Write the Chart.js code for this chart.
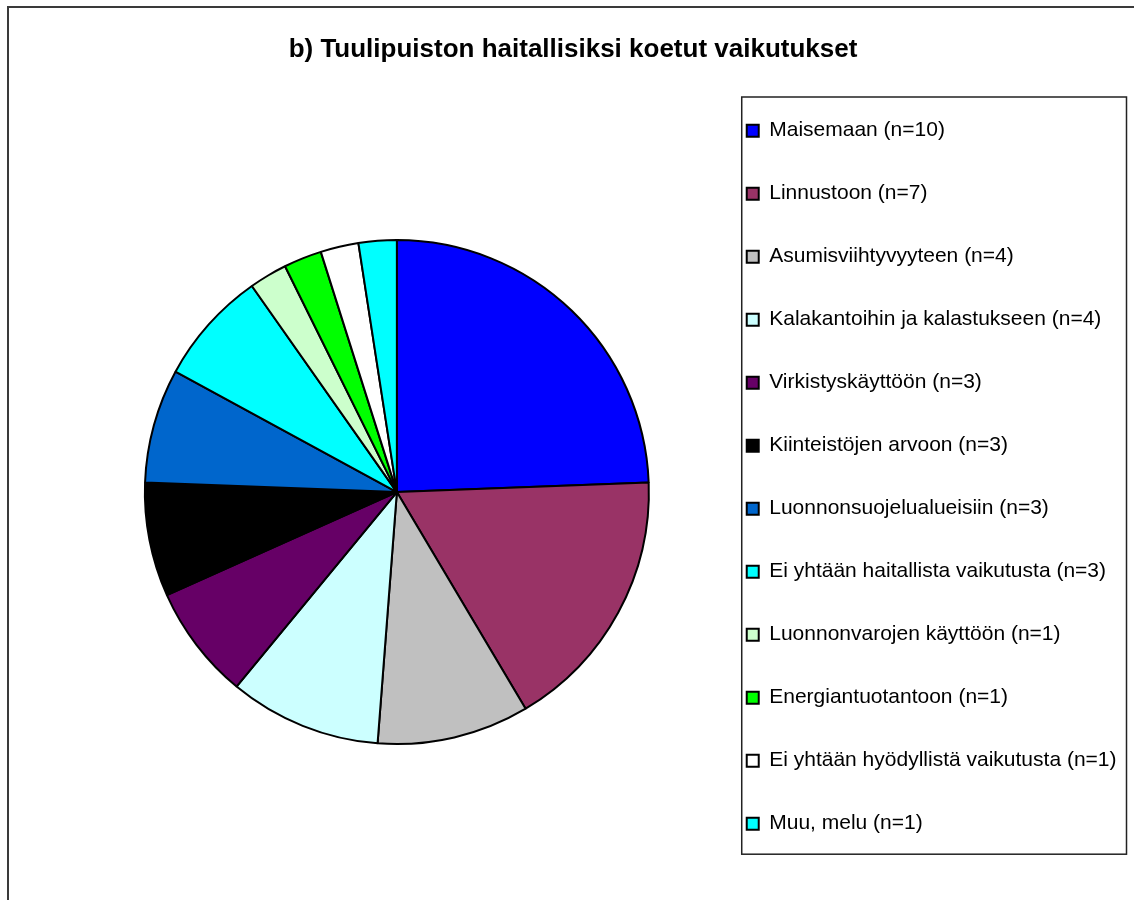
<!DOCTYPE html>
<html>
<head>
<meta charset="utf-8">
<script src="https://cdn.jsdelivr.net/npm/chart.js@4/dist/chart.umd.min.js"></script>
<style>
  body { margin: 0; background: #fff; }
  #wrap { width: 1134px; height: 900px; }
</style>
</head>
<body>
<div id="wrap"><canvas id="chart" width="1134" height="900"></canvas></div>
<script>
// answers, in the order they go round the pie (clockwise from 12 o'clock)
const categories = [
    'Maisemaan',
    'Linnustoon',
    'Asumisviihtyvyyteen',
    'Kalakantoihin ja kalastukseen',
    'Virkistyskäyttöön',
    'Kiinteistöjen arvoon',
    'Luonnonsuojelualueisiin',
    'Ei yhtään haitallista vaikutusta',
    'Luonnonvarojen käyttöön',
    'Energiantuotantoon',
    'Ei yhtään hyödyllistä vaikutusta',
    'Muu, melu'
];
const counts = [10, 7, 4, 4, 3, 3, 3, 3, 1, 1, 1, 1];
const sliceColors = [
    '#0000FF', '#993366', '#C0C0C0', '#CCFFFF', '#660066', '#000000',
    '#0066CC', '#00FFFF', '#CCFFCC', '#00FF00', '#FFFFFF', '#00FFFF'
];
const chartTitle = 'b) Tuulipuiston haitallisiksi koetut vaikutukset';

const labels = categories.map((name, i) => name + ' (n=' + counts[i] + ')');

// outer frame, legend frame, and small position fixes for title and legend
const framePlugin = {
    id: 'frames',
    afterLayout(chart) {
        // title centred over the whole page, not just the padded area
        chart.titleBlock.left = 12;
        chart.titleBlock.right = 1134;
        // legend sits a little higher than the pie's top edge
        chart.legend.top -= 6;
        chart.legend.bottom -= 6;
    },
    beforeDraw(chart) {
        const ctx = chart.ctx;
        ctx.save();
        ctx.fillStyle = '#fff';
        ctx.fillRect(0, 0, chart.width, chart.height);
        ctx.strokeStyle = '#3a3a3a';
        ctx.lineWidth = 2;
        ctx.strokeRect(8, 7, chart.width + 50, chart.height + 50);
        ctx.restore();
    },
    afterDraw(chart) {
        const boxes = chart.legend.legendHitBoxes;
        if (!boxes || !boxes.length) {
            return;
        }
        const first = boxes[0];
        const last = boxes[boxes.length - 1];
        const ctx = chart.ctx;
        ctx.save();
        ctx.strokeStyle = '#222';
        ctx.lineWidth = 1.5;
        const left = first.left - 5;
        const top = 97;
        ctx.strokeRect(left, top, chart.legend.right - left, last.top + last.height + 20 - top);
        ctx.restore();
    }
};

const ctx = document.getElementById('chart').getContext('2d');
new Chart(ctx, {
    type: 'pie',
    data: {
        labels: labels,
        datasets: [{
            data: counts,
            backgroundColor: sliceColors,
            borderColor: '#000',
            borderWidth: 2
        }]
    },
    options: {
        responsive: false,
        animation: false,
        events: [],
        radius: 252,
        layout: {
            padding: { left: 89, right: 7.5, top: 0, bottom: 0 }
        },
        plugins: {
            title: {
                display: true,
                text: chartTitle,
                color: '#000',
                font: { family: '"Liberation Sans", Arial, sans-serif', size: 26, weight: 'bold' },
                padding: { top: 34, bottom: 19 }
            },
            legend: {
                position: 'right',
                align: 'start',
                fullSize: false,
                labels: {
                    color: '#000',
                    font: { family: '"Liberation Sans", Arial, sans-serif', size: 21 },
                    boxWidth: 12,
                    boxHeight: 12,
                    padding: 42
                }
            },
            tooltip: { enabled: false }
        }
    },
    plugins: [framePlugin]
});
</script>
</body>
</html>
